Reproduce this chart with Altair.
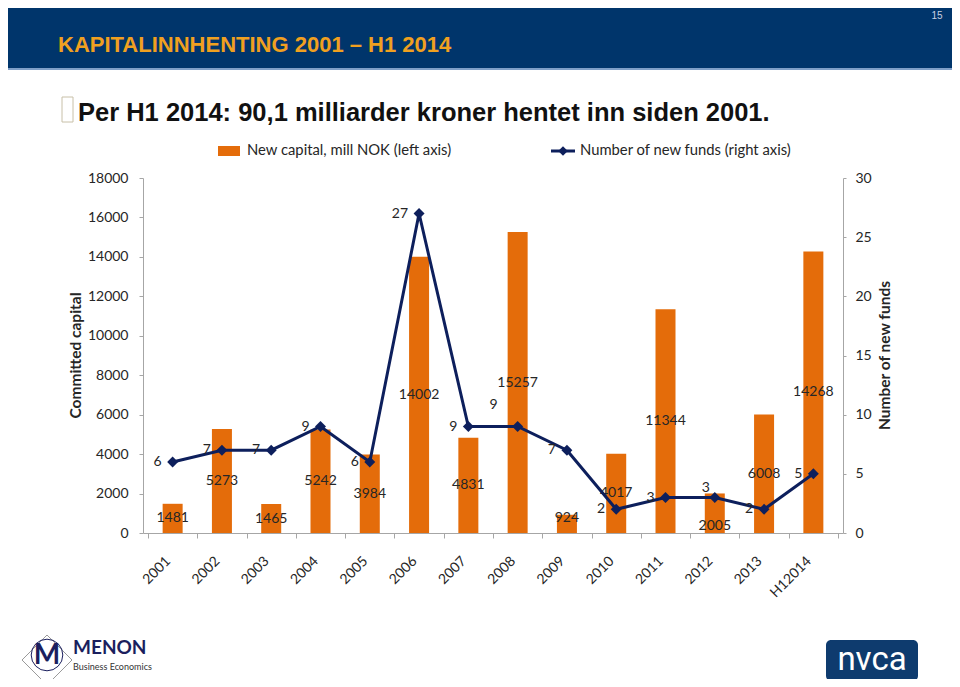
import altair as alt
import pandas as pd

# ---- data ----
years = ["2001", "2002", "2003", "2004", "2005", "2006", "2007", "2008",
         "2009", "2010", "2011", "2012", "2013", "H12014"]
capital = [1481, 5273, 1465, 5242, 3984, 14002, 4831, 15257,
           924, 4017, 11344, 2005, 6008, 14268]
funds = [6, 7, 7, 9, 6, 27, 9, 9, 7, 2, 3, 3, 2, 5]

left_ticks = [0, 2000, 4000, 6000, 8000, 10000, 12000, 14000, 16000, 18000]
right_ticks = [0, 5, 10, 15, 20, 25, 30]

title_text = "KAPITALINNHENTING 2001 \u2013 H1 2014"
subtitle_text = "Per H1 2014: 90,1 milliarder kroner hentet inn siden 2001."
legend_bar = "New capital, mill NOK (left axis)"
legend_line = "Number of new funds (right axis)"
left_title = "Committed capital"
right_title = "Number of new funds"
page_no = "15"

df = pd.DataFrame({"idx": list(range(len(years))), "year": years,
                   "capital": capital, "funds": funds})
one = pd.DataFrame({"k": [0]})

ORANGE = "#E46C0A"
NAVY = "#0D1F5C"
HEADER = "#00356B"
TXT = "#262626"
AX = "#A6A6A6"
FONT = "Lato"
NARROW = "Liberation Sans Narrow, Liberation Sans, Arial, sans-serif"

W, H = 700, 355

xscale = alt.Scale(domain=[-0.5, len(years) - 0.5], nice=False, zero=False)
xbounds = [i - 0.5 for i in range(len(years) + 1)]
x_axis = alt.Axis(values=xbounds, labels=False, title=None, grid=False,
                  domainColor=AX, tickColor=AX, tickSize=5)
X = alt.X("idx:Q", scale=xscale, axis=x_axis)

# ---- left (bars) ----
yl_scale = alt.Scale(domain=[0, 18000], nice=False)
yl_axis = alt.Axis(orient="left", values=left_ticks, grid=False, title=left_title,
                   format="d", labelOverlap=False, labelSeparation=0,
                   domainColor=AX, tickColor=AX, tickSize=4, labelPadding=11,
                   labelFont=FONT, labelFontSize=14, labelColor=TXT,
                   titleFont=FONT, titleFontSize=15.5, titleFontWeight="bold",
                   titleColor=TXT, titleAngle=270, titleX=-68, titleY=177,
                   titleAlign="center", titleBaseline="middle")
bars = alt.Chart(df).mark_bar(color=ORANGE, size=20).encode(
    x=X, y=alt.Y("capital:Q", scale=yl_scale, axis=yl_axis))


def bar_labels(flt, dy=0):
    return alt.Chart(df).transform_filter(flt).transform_calculate(
        mid="datum.capital / 2").mark_text(
        font=FONT, fontSize=14, color=TXT, baseline="middle", dy=dy
    ).encode(x=X, y=alt.Y("mid:Q", scale=yl_scale, axis=yl_axis), text="capital:Q")


bar_lbl = bar_labels("datum.year != '2012' && datum.year != '2009'")
bar_lbl_2012 = bar_labels("datum.year == '2012'", dy=13)
bar_lbl_2009 = bar_labels("datum.year == '2009'", dy=-6)
left = alt.layer(bars, bar_lbl, bar_lbl_2012, bar_lbl_2009)

# ---- right (line) ----
yr_scale = alt.Scale(domain=[0, 30], nice=False)
yr_axis = alt.Axis(orient="right", values=right_ticks, grid=False, title=right_title,
                   labelOverlap=False,
                   domainColor=AX, tickColor=AX, tickSize=3, labelPadding=9,
                   labelFont=FONT, labelFontSize=14, labelColor=TXT,
                   titleFont=FONT, titleFontSize=15.5, titleFontWeight="bold",
                   titleColor=TXT, titleAngle=270, titleX=41, titleY=177,
                   titleAlign="center", titleBaseline="middle")
YR = alt.Y("funds:Q", scale=yr_scale, axis=yr_axis)
line = alt.Chart(df).mark_line(color=NAVY, strokeWidth=3).encode(x=X, y=YR)
pts = alt.Chart(df).mark_point(shape="diamond", filled=True, size=120, color=NAVY,
                               opacity=1).encode(x=X, y=YR)


def line_labels(flt, dx=-11, dy=0, align="right"):
    return alt.Chart(df).transform_filter(flt).mark_text(
        font=FONT, fontSize=14, color=TXT, align=align, baseline="middle", dx=dx, dy=dy
    ).encode(x=X, y=YR, text="funds:Q")


line_lbl = line_labels("datum.year != '2008' && datum.year != '2012'")
line_lbl_2008 = line_labels("datum.year == '2008'", dx=-24, dy=-22, align="center")
line_lbl_2012 = line_labels("datum.year == '2012'", dx=-9, dy=-10, align="center")
right = alt.layer(line, pts, line_lbl, line_lbl_2008, line_lbl_2012)

# ---- category labels ----
year_lbl = alt.Chart(df).mark_text(font=FONT, fontSize=14, color=TXT, align="right",
                                   baseline="middle", angle=315, dx=-6).encode(
    x=X, y=alt.value(377), text="year:N")

# ---- page decoration / legend ----
def deco_rect(x, x2, y, y2, **kw):
    return alt.Chart(one).mark_rect(**kw).encode(
        x=alt.value(x), x2=alt.value(x2), y=alt.value(y), y2=alt.value(y2))

def deco_text(txt, x, y, **kw):
    return alt.Chart(one).mark_text(**kw).encode(
        x=alt.value(x), y=alt.value(y), text=alt.value(txt))

header = deco_rect(-135, 809, -170, -110, color=HEADER)
header_line = deco_rect(-135, 809, -110, -108, color="#7F9FC8")
title = deco_text(title_text, -85, -126, font=NARROW, fontSize=22, fontWeight="bold",
                  color="#F0A020", align="left", baseline="alphabetic")
pnum = deco_text(page_no, 794, -162, font=NARROW, fontSize=10, color="#C8D0E0",
                 align="center", baseline="middle")
bullet = deco_rect(-81, -70, -81, -56, fill="white", stroke="#C8C0A8", strokeWidth=1)
subtitle = deco_text(subtitle_text, -65, -57, font=NARROW, fontSize=25.5, fontWeight="bold",
                     color="#111111", align="left", baseline="alphabetic")

leg_sw = deco_rect(75, 97, -32, -22, color=ORANGE)
leg_t1 = deco_text(legend_bar, 104, -27, font=FONT, fontSize=14.8, color=TXT,
                   align="left", baseline="middle")
leg_ln = alt.Chart(one).mark_rule(color=NAVY, strokeWidth=3).encode(
    x=alt.value(408), x2=alt.value(432), y=alt.value(-27))
leg_pt = alt.Chart(one).mark_point(shape="diamond", filled=True, size=90, color=NAVY,
                                   opacity=1).encode(x=alt.value(420), y=alt.value(-27))
leg_t2 = deco_text(legend_line, 437, -27, font=FONT, fontSize=14.8, color=TXT,
                   align="left", baseline="middle")

# logos
nvca_box = alt.Chart(one).mark_rect(color="#0E3B6E", cornerRadius=5).encode(
    x=alt.value(683), x2=alt.value(775), y=alt.value(462), y2=alt.value(503))
nvca_txt = deco_text("nvca", 729, 482, font="Roboto", fontSize=33, color="white",
                     align="center", baseline="middle")
menon_circle = alt.Chart(one).mark_point(shape="circle", size=1000, color="#1B1F5E",
                                         strokeWidth=1, opacity=1).encode(
    x=alt.value(-96), y=alt.value(477))
menon_diamond = alt.Chart(one).mark_point(shape="diamond", size=2500, color="#555555",
                                          strokeWidth=0.6, opacity=1).encode(
    x=alt.value(-96), y=alt.value(482))
menon_m = deco_text("M", -96, 478, font=FONT, fontSize=28, fontWeight="bold",
                    color="#1B1F5E", align="center", baseline="middle")
menon_t = deco_text("MENON", -70, 476, font=FONT, fontSize=19, fontWeight="bold",
                    color="#1B1F5E", align="left", baseline="alphabetic")
menon_s = deco_text("Business Economics", -70, 492, font=FONT, fontSize=9,
                    color="#333333", align="left", baseline="alphabetic")

deco = alt.layer(header, header_line, title, pnum, bullet, subtitle,
                 leg_sw, leg_t1, leg_ln, leg_pt, leg_t2,
                 nvca_box, nvca_txt, menon_diamond, menon_circle, menon_m, menon_t, menon_s)

chart = alt.layer(left, right, year_lbl, deco).resolve_scale(y="independent").properties(
    width=W, height=H,
    autosize=alt.AutoSizeParams(type="none"),
    padding={"left": 135, "top": 170, "right": 944 - 135 - W, "bottom": 671 - 170 - H},
    background="white",
).configure_view(stroke=None)

chart.save("out.html", embed_options={"renderer": "svg", "actions": False})
